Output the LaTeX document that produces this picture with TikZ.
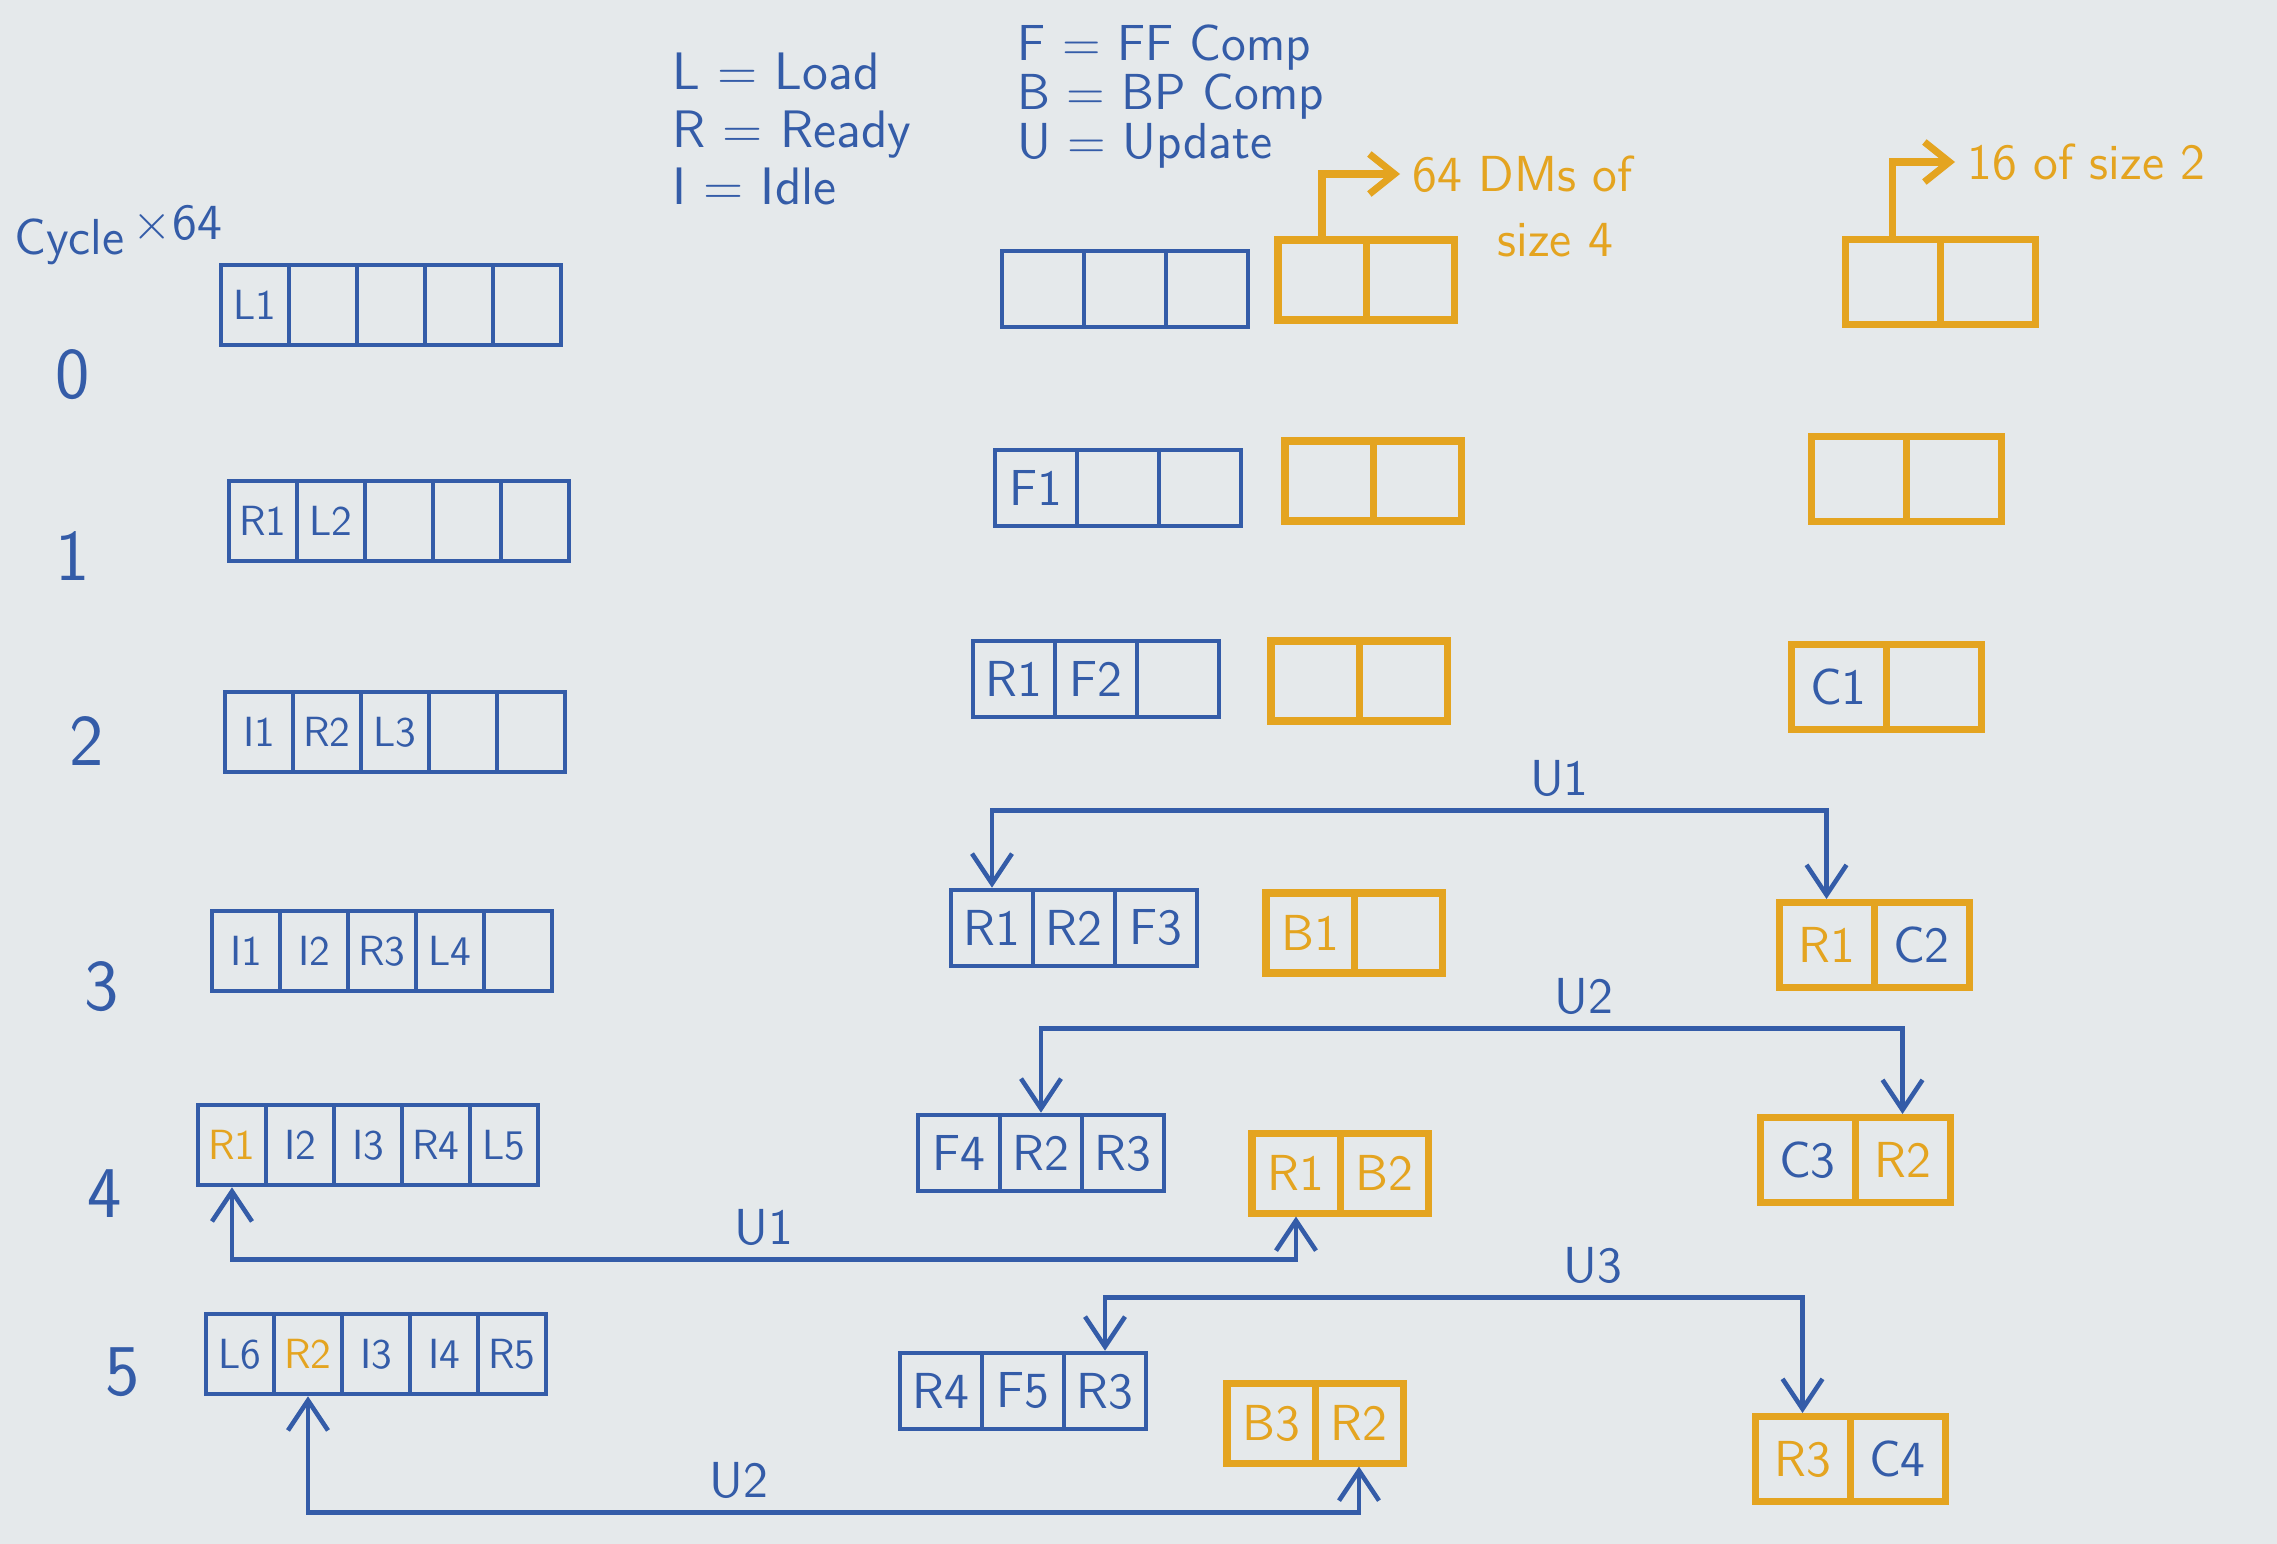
\documentclass[tikz,border=0pt]{standalone}
\usepackage{xcolor}
\usepackage{amsmath}
\usepackage{tikz}
\usetikzlibrary{arrows.meta,positioning,calc}
\renewcommand{\familydefault}{\sfdefault}
\definecolor{inkblue}{RGB}{52,92,168}
\definecolor{dmorange}{RGB}{228,164,32}
\definecolor{board}{RGB}{229,233,235}

\begin{document}
\begin{tikzpicture}[
    lcell/.style={rectangle, draw=inkblue, line width=1.3pt, minimum width=0.68cm, minimum height=0.8cm, inner sep=0pt, font=\large, text=inkblue},
    mcell/.style={lcell, minimum width=0.82cm, minimum height=0.76cm, font=\Large},
    ocell/.style={rectangle, draw=dmorange, line width=2pt, minimum width=0.88cm, minimum height=0.8cm, inner sep=0pt, font=\Large, text=dmorange},
    rcell/.style={ocell, minimum width=0.95cm, minimum height=0.85cm},
    cyc/.style={font=\huge, text=inkblue},
    legendtext/.style={align=left, text=inkblue, anchor=north west},
    notetext/.style={font=\Large, text=dmorange, anchor=west},
    notearrow/.style={->, draw=dmorange, line width=2pt, >={Straight Barb[length=2.5mm,width=4mm]}},
    upd/.style={<->, draw=inkblue, line width=1.3pt, >={Straight Barb[length=3mm,width=4mm]}},
    updlabel/.style={above, font=\Large, text=inkblue}]

% Board and page size
\fill[board] (0,0) rectangle (22.77,-15.44);
\useasboundingbox (0,0) rectangle (22.77,-15.44);

% Cycle numbers
\node[font=\Large, text=inkblue, anchor=west] (cyclehdr) at (0.02,-2.35) {Cycle\,\raisebox{0.7ex}{$\times$64}};
\node[cyc] (c0) at (0.73,-3.75) {0};
\node[cyc] (c1) at (0.73,-5.56) {1};
\node[cyc] (c2) at (0.87,-7.41) {2};
\node[cyc] (c3) at (1.02,-9.87) {3};
\node[cyc] (c4) at (1.05,-11.94) {4};
\node[cyc] (c5) at (1.23,-13.72) {5};

% Legend
\node[legendtext, font=\fontsize{15}{16.5}\selectfont] (keyA) at (6.6,-0.40) {L = Load\\R = Ready\\I = Idle};
\node[legendtext, font=\fontsize{14.4}{14}\selectfont] (keyB) at (10.05,-0.12) {F = FF Comp\\B = BP Comp\\U = Update};

% Left column, 5 slots
\foreach \t [count=\i] in {L1,{},{},{},{}}
    \node[lcell] (l0-\i) at ({2.21+0.68*\i-0.34},-3.05) {\t};
\foreach \t [count=\i] in {R1,L2,{},{},{}}
    \node[lcell] (l1-\i) at ({2.29+0.68*\i-0.34},-5.21) {\t};
\foreach \t [count=\i] in {I1,R2,L3,{},{}}
    \node[lcell] (l2-\i) at ({2.25+0.68*\i-0.34},-7.32) {\t};
\foreach \t [count=\i] in {I1,I2,R3,L4,{}}
    \node[lcell] (l3-\i) at ({2.12+0.68*\i-0.34},-9.51) {\t};
\foreach \t [count=\i] in {\textcolor{dmorange}{R1},I2,I3,R4,L5}
    \node[lcell] (l4-\i) at ({1.98+0.68*\i-0.34},-11.45) {\t};
\foreach \t [count=\i] in {L6,\textcolor{dmorange}{R2},I3,I4,R5}
    \node[lcell] (l5-\i) at ({2.06+0.68*\i-0.34},-13.54) {\t};

% Middle column, 3 slots
\foreach \t [count=\i] in {{},{},{}}
    \node[mcell] (m0-\i) at ({10.02+0.82*\i-0.41},-2.89) {\t};
\foreach \t [count=\i] in {F1,{},{}}
    \node[mcell] (m1-\i) at ({9.95+0.82*\i-0.41},-4.88) {\t};
\foreach \t [count=\i] in {R1,F2,{}}
    \node[mcell] (m2-\i) at ({9.73+0.82*\i-0.41},-6.79) {\t};
\foreach \t [count=\i] in {R1,R2,F3}
    \node[mcell] (m3-\i) at ({9.51+0.82*\i-0.41},-9.28) {\t};
\foreach \t [count=\i] in {F4,R2,R3}
    \node[mcell] (m4-\i) at ({9.18+0.82*\i-0.41},-11.53) {\t};
\foreach \t [count=\i] in {R4,F5,R3}
    \node[mcell] (m5-\i) at ({9.00+0.82*\i-0.41},-13.91) {\t};

% DMs of size 4
\foreach \t [count=\i] in {{},{}}
    \node[ocell] (o0-\i) at ({12.78+0.88*\i-0.44},-2.80) {\t};
\foreach \t [count=\i] in {{},{}}
    \node[ocell] (o1-\i) at ({12.85+0.88*\i-0.44},-4.81) {\t};
\foreach \t [count=\i] in {{},{}}
    \node[ocell] (o2-\i) at ({12.71+0.88*\i-0.44},-6.81) {\t};
\foreach \t [count=\i] in {B1,{}}
    \node[ocell] (o3-\i) at ({12.66+0.88*\i-0.44},-9.33) {\t};
\foreach \t [count=\i] in {R1,B2}
    \node[ocell] (o4-\i) at ({12.52+0.88*\i-0.44},-11.73) {\t};
\foreach \t [count=\i] in {B3,R2}
    \node[ocell] (o5-\i) at ({12.27+0.88*\i-0.44},-14.23) {\t};

% DMs of size 2
\foreach \t [count=\i] in {{},{}}
    \node[rcell] (r0-\i) at ({18.45+0.95*\i-0.475},-2.82) {\t};
\foreach \t [count=\i] in {{},{}}
    \node[rcell] (r1-\i) at ({18.11+0.95*\i-0.475},-4.79) {\t};
\foreach \t [count=\i] in {\textcolor{inkblue}{C1},{}}
    \node[rcell] (r2-\i) at ({17.91+0.95*\i-0.475},-6.87) {\t};
\foreach \t [count=\i] in {R1,\textcolor{inkblue}{C2}}
    \node[rcell] (r3-\i) at ({17.79+0.95*\i-0.475},-9.45) {\t};
\foreach \t [count=\i] in {\textcolor{inkblue}{C3},R2}
    \node[rcell] (r4-\i) at ({17.60+0.95*\i-0.475},-11.60) {\t};
\foreach \t [count=\i] in {R3,\textcolor{inkblue}{C4}}
    \node[rcell] (r5-\i) at ({17.55+0.95*\i-0.475},-14.59) {\t};

% Size notes
\node[notetext] (dmsA) at (14.0,-1.74) {64 DMs of};
\node[notetext] (dmsB) at (14.85,-2.40) {size 4};
\draw[notearrow] (o0-1.north) |- (dmsA.west);
\node[notetext] (szB) at (19.55,-1.62) {16 of size 2};
\draw[notearrow] (r0-1.north) |- (szB.west);

% Updates between the columns
\draw[upd] (m3-1.north) -- ++(0,0.77) -| node[updlabel, pos=0.34] {U1} (r3-1.north);
\draw[upd] (m4-2.north) -- ++(0,0.84) -| node[updlabel, pos=0.315] {U2} (r4-2.north);
\draw[upd] (m5-3.north) -- ++(0,0.53) -| node[updlabel, pos=0.35] {U3} (r5-1.north);

% Updates back to the left column
\draw[upd] (l4-1.south) -- ++(0,-0.72) -| node[updlabel, pos=0.25] {U1} (o4-1.south);
\draw[upd] (l5-2.south) -- ++(0,-1.16) -| node[updlabel, pos=0.205] {U2} (o5-2.south);

\end{tikzpicture}
\end{document}
